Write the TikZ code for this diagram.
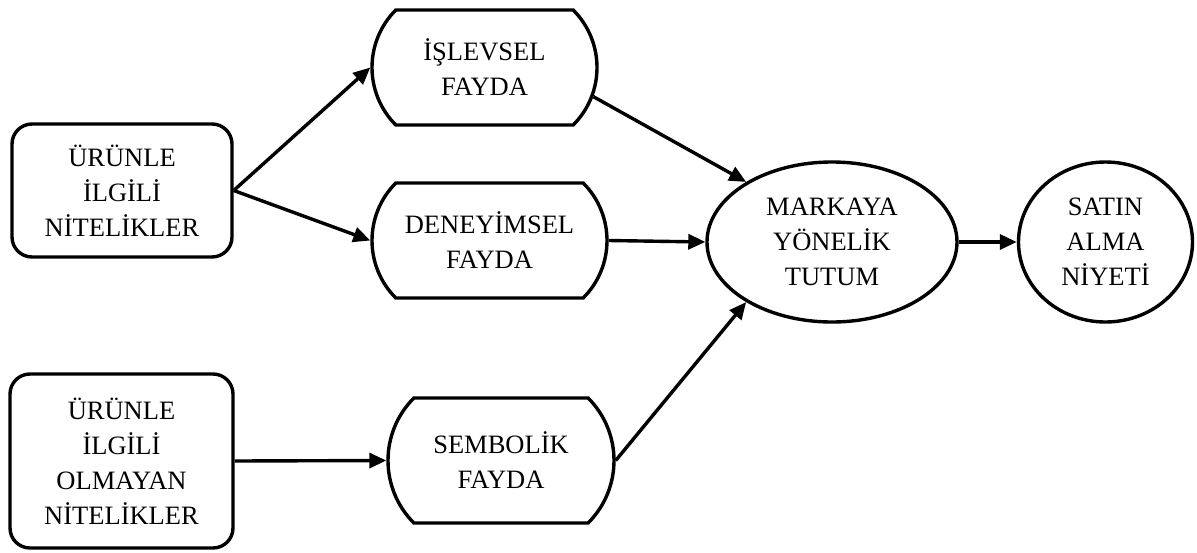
\documentclass[tikz,border=0pt]{standalone}
\usepackage{fontspec}
\setmainfont{Liberation Serif}
\usepackage{tikz}
\usetikzlibrary{shapes.misc,shapes.geometric,arrows.meta}
\tikzset{
  attrbox/.style={draw,line width=3.4pt,rounded corners=20pt,align=center,inner sep=0pt},
  benefit/.style={draw,line width=3.4pt,rounded rectangle,rounded rectangle arc length=90,align=center,inner sep=0pt},
  outcome/.style={draw,line width=3.4pt,ellipse,align=center,inner sep=0pt},
  arr/.style={line width=3.4pt,-{Triangle[length=17pt,width=15pt]}}
}

\begin{document}
\begin{tikzpicture}[x=1pt,y=-1pt,font=\fontsize{26.5}{35}\selectfont]
    \useasboundingbox (0,0) rectangle (1197,552);

    % Attributes
    \node[attrbox,minimum width=220pt,minimum height=133pt] (attr1) at (122,190.5) {ÜRÜNLE\\İLGİLİ\\NİTELİKLER};
    \node[attrbox,minimum width=223pt,minimum height=174pt] (attr2) at (121.5,461) {ÜRÜNLE\\İLGİLİ\\OLMAYAN\\NİTELİKLER};

    % Benefits
    \node[benefit,minimum width=225pt,minimum height=115pt] (func) at (484.5,67.5) {İŞLEVSEL\\FAYDA};
    \node[benefit,minimum width=235pt,minimum height=115pt] (exp) at (489.5,240.5) {DENEYİMSEL\\FAYDA};
    \node[benefit,minimum width=226pt,minimum height=125pt] (sym) at (501,460.5) {SEMBOLİK\\FAYDA};

    % Attitude and intention
    \node[outcome,minimum width=250pt,minimum height=160pt] (att) at (832,242) {MARKAYA\\YÖNELİK\\TUTUM};
    \node[outcome,minimum width=174pt,minimum height=160pt] (intent) at (1105.5,242) {SATIN\\ALMA\\NİYETİ};

    % Arrows
    \draw[arr] (attr1.east) -- (func.west);
    \draw[arr] (attr1.east) -- (exp.west);
    \draw[arr] (attr2.east) -- (sym.west);
    \draw[arr] (func.-15) -- (att.145);
    \draw[arr] (exp.east) -- (att.west);
    \draw[arr] (sym.east) -- (att.215);
    \draw[arr] (att.east) -- (intent.west);
\end{tikzpicture}
\end{document}
